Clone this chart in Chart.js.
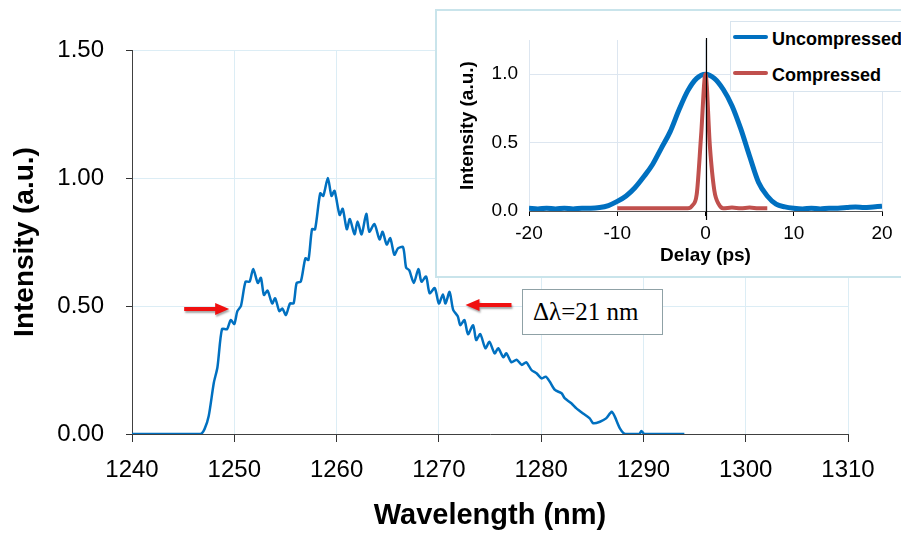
<!DOCTYPE html>
<html>
<head>
<meta charset="utf-8">
<script src="https://cdn.jsdelivr.net/npm/chart.js@4.4.0/dist/chart.umd.min.js"></script>
<style>
html, body { margin: 0; padding: 0; background: #fff; overflow: hidden; }
body { width: 901px; height: 539px; position: relative; font-family: 'Liberation Sans', Arial, sans-serif; }
#mainChart { position: absolute; left: 0; top: 0; }
#inset { position: absolute; left: 435px; top: 9px; width: 470px; height: 269px; box-sizing: border-box;
         border: 2px solid #c9e4eb; background: #fff; }
#insetChart { position: absolute; left: 0; top: 0; }
#legend { position: absolute; left: 730px; top: 21px; width: 190px; height: 71px; box-sizing: border-box;
          border: 1px solid #d8e4ee; background: #fff; font-weight: bold; font-size: 18px; }
#legend .ln { position: absolute; left: 2px; width: 35px; height: 4px; border-radius: 2px; }
#legend .tx { position: absolute; left: 41px; line-height: 20px; white-space: nowrap; color: #000; }
#note { position: absolute; left: 522px; top: 289px; width: 141px; height: 46px; box-sizing: border-box;
        border: 1.5px solid #8fa1a6; background: #fff; font-family: 'Liberation Serif', 'Times New Roman', serif;
        font-size: 25px; line-height: 44px; padding-left: 10px; white-space: nowrap; }
</style>
</head>
<body>
<canvas id="mainChart" width="901" height="539"></canvas>
<div id="inset"><canvas id="insetChart" width="466" height="265"></canvas></div>
<div id="legend">
  <div class="ln" style="top:13px;background:#0070c0"></div>
  <div class="tx" style="top:7px">Uncompressed</div>
  <div class="ln" style="top:49px;background:#c0504d"></div>
  <div class="tx" style="top:43px">Compressed</div>
</div>
<div id="note">&Delta;&lambda;=21 nm</div>
<script>
// spectrum
const wavelength = [1240, 1246.7, 1247.1, 1247.5, 1248.0, 1248.35, 1248.8, 1249.3, 1249.65, 1250.0, 1250.3, 1250.65,
  1251.1, 1251.5, 1251.85, 1252.3, 1252.6, 1252.9, 1253.25, 1253.7, 1254.0, 1254.4, 1254.7, 1255.05, 1255.45, 1255.8,
  1256.1, 1256.5, 1256.95, 1257.25, 1257.6, 1257.9, 1258.4, 1258.7, 1259.15, 1259.5, 1259.8, 1260.3, 1260.6, 1261.0,
  1261.3, 1261.75, 1262.05, 1262.45, 1262.9, 1263.2, 1263.7, 1264.2, 1264.5, 1264.9, 1265.25, 1265.65, 1266.0, 1266.5,
  1266.8, 1267.1, 1267.55, 1268.0, 1268.3, 1268.75, 1269.1, 1269.6, 1270.0, 1270.4, 1270.65, 1271.05, 1271.4, 1271.85,
  1272.1, 1272.5, 1272.85, 1273.35, 1273.65, 1274.05, 1274.55, 1274.95, 1275.45, 1275.8, 1276.3, 1276.6, 1277.1,
  1277.6, 1278.1, 1278.55, 1279.05, 1279.55, 1280.05, 1280.45, 1280.85, 1281.35, 1282.0, 1282.3, 1282.95, 1283.45,
  1284.1, 1284.75, 1285.1, 1285.75, 1286.35, 1286.9, 1287.2, 1287.7, 1288.2, 1289.6, 1289.8, 1290.1, 1294];
const intensity = [0, 0, 0.02, 0.07, 0.2, 0.26, 0.41, 0.41, 0.445, 0.43, 0.48, 0.5,
  0.595, 0.595, 0.645, 0.59, 0.61, 0.543, 0.56, 0.51, 0.53, 0.48, 0.49, 0.465, 0.51, 0.51,
  0.59, 0.595, 0.686, 0.68, 0.8, 0.8, 0.94, 0.93, 1.0, 0.93, 0.95, 0.856, 0.88, 0.8,
  0.84, 0.78, 0.83, 0.78, 0.86, 0.79, 0.82, 0.76, 0.79, 0.74, 0.765, 0.7, 0.725, 0.73,
  0.65, 0.64, 0.59, 0.645, 0.595, 0.615, 0.55, 0.57, 0.51, 0.545, 0.51, 0.555, 0.485, 0.46,
  0.425, 0.445, 0.39, 0.425, 0.367, 0.39, 0.335, 0.36, 0.315, 0.335, 0.3, 0.315, 0.28,
  0.29, 0.27, 0.28, 0.25, 0.237, 0.217, 0.224, 0.204, 0.172, 0.159, 0.14, 0.12, 0.1,
  0.08, 0.061, 0.042, 0.048, 0.061, 0.087, 0.068, 0.022, 0, 0, 0.012, 0, 0];

// inset autocorrelation traces
const delayUnc = [-20, -19, -18, -17, -16, -15, -14, -13, -12, -11, -10, -9, -8, -7, -6, -5, -4, -3, -2, -1, 0,
  1, 2, 3, 4, 5, 6, 7, 8, 9, 10, 11, 12, 13, 14, 15, 16, 17, 18, 19, 20];
const uncompressed = [0.02, 0.015, 0.02, 0.015, 0.02, 0.015, 0.02, 0.02, 0.025, 0.04, 0.07, 0.11, 0.17, 0.25, 0.34,
  0.46, 0.58, 0.74, 0.88, 0.97, 1.0, 0.97, 0.89, 0.77, 0.6, 0.4, 0.21, 0.11, 0.05, 0.03, 0.02,
  0.015, 0.02, 0.015, 0.02, 0.02, 0.025, 0.03, 0.025, 0.03, 0.035];
const delayComp = [-10, -9, -8, -7, -6, -5, -4, -3, -2, -1.5, -1, -0.5, 0, 0.5, 1, 1.5, 2, 3, 4, 5, 6, 7];
const compressed = [0.02, 0.02, 0.02, 0.02, 0.02, 0.02, 0.02, 0.02, 0.02, 0.04, 0.12, 0.55, 1.0, 0.47, 0.15, 0.05,
  0.02, 0.025, 0.02, 0.025, 0.02, 0.02];

// red arrows (wavelength from, to, at intensity)
const arrows = [
  { from: 1245.1, to: 1249.5, at: 0.488 },
  { from: 1277.1, to: 1272.6, at: 0.504 }
];

Chart.defaults.font.family = "'Liberation Sans', Arial, sans-serif";
Chart.defaults.color = '#000';

const toPts = (xs, ys) => xs.map((x, i) => ({ x: x, y: ys[i] }));

const arrowPlugin = {
  id: 'arrows',
  afterDatasetsDraw(chart) {
    const ctx = chart.ctx;
    const sx = chart.scales.x, sy = chart.scales.y;
    arrows.forEach(a => {
      const x0 = sx.getPixelForValue(a.from), x1 = sx.getPixelForValue(a.to);
      const y = sy.getPixelForValue(a.at);
      const dir = Math.sign(x1 - x0), head = 14;
      ctx.save();
      ctx.fillStyle = '#f01010';
      ctx.shadowColor = 'rgba(0,0,0,0.35)';
      ctx.shadowOffsetX = 1;
      ctx.shadowOffsetY = 2;
      ctx.shadowBlur = 2;
      ctx.beginPath();
      ctx.moveTo(x0, y - 2);
      ctx.lineTo(x1 - dir * head, y - 2);
      ctx.lineTo(x1 - dir * head, y - 6);
      ctx.lineTo(x1, y);
      ctx.lineTo(x1 - dir * head, y + 6);
      ctx.lineTo(x1 - dir * head, y + 2);
      ctx.lineTo(x0, y + 2);
      ctx.closePath();
      ctx.fill();
      ctx.restore();
    });
  }
};

new Chart(document.getElementById('mainChart'), {
  type: 'line',
  data: {
    datasets: [{
      data: toPts(wavelength, intensity),
      borderColor: '#0070c0',
      borderWidth: 2.5,
      pointRadius: 0,
      tension: 0.25,
      fill: false
    }]
  },
  options: {
    responsive: false,
    animation: false,
    layout: { padding: { top: 50, right: 53, left: 0, bottom: 0 } },
    plugins: { legend: { display: false }, tooltip: { enabled: false } },
    scales: {
      x: {
        type: 'linear', min: 1240, max: 1310,
        afterFit: s => { s.height = 105; },
        ticks: { stepSize: 10, font: { size: 24 }, padding: 14, maxRotation: 0, callback: v => String(v) },
        grid: { color: '#dcedf5', tickColor: '#333', tickLength: 8 },
        border: { color: '#404040' },
        title: { display: true, text: 'Wavelength (nm)', font: { size: 29, weight: 'bold' }, padding: { top: 0, bottom: 6 } }
      },
      y: {
        min: 0, max: 1.5,
        afterFit: s => { s.width = 132; },
        ticks: { stepSize: 0.5, font: { size: 24 }, padding: 22, callback: v => v.toFixed(2) },
        grid: { color: '#dcedf5', tickColor: '#333', tickLength: 6 },
        border: { color: '#404040' },
        title: { display: true, text: 'Intensity (a.u.)', font: { size: 28, weight: 'bold' }, padding: { top: 8, bottom: 0 } }
      }
    }
  },
  plugins: [arrowPlugin]
});

const zeroLinePlugin = {
  id: 'zeroLine',
  afterDatasetsDraw(chart) {
    const ctx = chart.ctx;
    const x = Math.round(chart.scales.x.getPixelForValue(0)) + 0.5;
    ctx.save();
    ctx.strokeStyle = '#000';
    ctx.lineWidth = 1.2;
    ctx.beginPath();
    ctx.moveTo(x, chart.chartArea.top - 2);
    ctx.lineTo(x, chart.chartArea.bottom + 9);
    ctx.stroke();
    ctx.restore();
  }
};

new Chart(document.getElementById('insetChart'), {
  type: 'line',
  data: {
    datasets: [
      {
        data: toPts(delayComp, compressed),
        borderColor: '#c0504d', borderWidth: 4, pointRadius: 0,
        cubicInterpolationMode: 'monotone', order: 0
      },
      {
        data: toPts(delayUnc, uncompressed),
        borderColor: '#0070c0', borderWidth: 5, pointRadius: 0,
        cubicInterpolationMode: 'monotone', order: 1
      }
    ]
  },
  options: {
    responsive: false,
    animation: false,
    layout: { padding: { top: 29, right: 21, left: 0, bottom: 0 } },
    plugins: { legend: { display: false }, tooltip: { enabled: false } },
    scales: {
      x: {
        type: 'linear', min: -20, max: 20,
        afterFit: s => { s.height = 65; },
        ticks: { stepSize: 10, font: { size: 19 }, padding: 6, maxRotation: 0 },
        grid: { color: '#dde6f0', tickColor: '#000', tickLength: 5 },
        border: { color: '#555' },
        title: { display: true, text: 'Delay (ps)', font: { size: 19, weight: 'bold' }, padding: { top: 0, bottom: 9 } }
      },
      y: {
        min: 0, max: 1.25,
        afterFit: s => { s.width = 92; },
        afterBuildTicks: s => { s.ticks = [0, 0.5, 1].map(v => ({ value: v })); },
        ticks: { font: { size: 19 }, padding: 11, callback: v => v.toFixed(1) },
        grid: { color: '#dde6f0', drawTicks: false },
        border: { display: false },
        title: { display: true, text: 'Intensity (a.u.)', font: { size: 19, weight: 'bold' }, padding: { top: 19, bottom: 0 } }
      }
    }
  },
  plugins: [zeroLinePlugin]
});
</script>
</body>
</html>
